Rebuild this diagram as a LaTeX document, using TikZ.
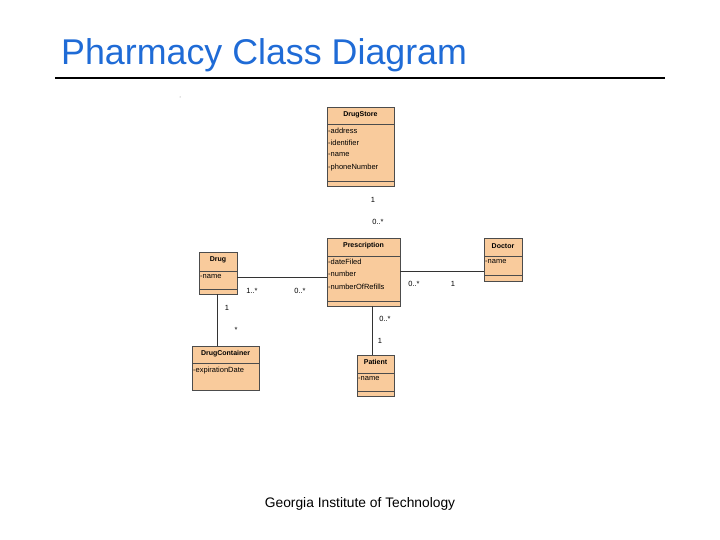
\documentclass[tikz,border=0pt]{standalone}
\usepackage{fontspec}
\setmainfont{Liberation Sans}
\begin{document}
\begin{tikzpicture}[x=1pt,y=-1pt,
  box/.style={draw=black!70,fill=boxc,line width=0.5pt},
  sep/.style={draw=black!70,line width=0.5pt},
  ttl/.style={font=\fontsize{7}{8}\selectfont\bfseries,anchor=center},
  att/.style={font=\fontsize{7.5}{8}\selectfont,anchor=west,inner sep=1pt},
  lab/.style={font=\fontsize{7.5}{8}\selectfont,inner sep=0pt},
  conn/.style={draw=black!80,line width=0.5pt}]
\definecolor{boxc}{HTML}{F9CB9C}
\definecolor{ttlc}{HTML}{1F6BD6}
\useasboundingbox (0,0) rectangle (720,540);
\node[anchor=west,text=ttlc,font=\fontsize{35.8}{38}\selectfont,inner sep=0pt] (title) at (61,55) {Pharmacy Class Diagram};
\draw[line width=2.5pt] (55,78) -- (665,78);
\fill[black!50] (180,97) circle (0.5);
% DrugStore
\path[box] (327,107) rectangle (394,186);
\draw[sep] (327,124) -- (394,124) (327,181) -- (394,181);
\node[ttl] (ds) at (360.5,115) {DrugStore};
\node[att] at (327,131) {-address};
\node[att] at (327,143) {-identifier};
\node[att] at (327,155) {-name};
\node[att] at (327,168) {-phoneNumber};
% Prescription
\path[box] (327,238) rectangle (400,306);
\draw[sep] (327,256) -- (400,256) (327,301) -- (400,301);
\node[ttl] (pr) at (363.5,246) {Prescription};
\node[att] at (327,262) {-dateFiled};
\node[att] at (327,274) {-number};
\node[att] at (327,287) {-numberOfRefills};
\coordinate (prL) at (327,277); \coordinate (prR) at (400,271); \coordinate (prB) at (372,306);
% Doctor
\path[box] (484,238) rectangle (522,281);
\draw[sep] (484,256) -- (522,256) (484,275) -- (522,275);
\node[ttl] (doc) at (503,246) {Doctor};
\node[att] at (484,262) {-name};
\coordinate (docL) at (484,271);
% Drug
\path[box] (199,252) rectangle (237,294);
\draw[sep] (199,271) -- (237,271) (199,289) -- (237,289);
\node[ttl] (drug) at (218,260) {Drug};
\node[att] at (199,277) {-name};
\coordinate (drugR) at (237,277); \coordinate (drugB) at (217,294);
% DrugContainer
\path[box] (192,346) rectangle (259,390);
\draw[sep] (192,363) -- (259,363);
\node[ttl] (dc) at (225.5,354) {DrugContainer};
\node[att] at (192,371) {-expirationDate};
\coordinate (dcT) at (217,346);
% Patient
\path[box] (357,355) rectangle (394,396);
\draw[sep] (357,373) -- (394,373) (357,391) -- (394,391);
\node[ttl] (pat) at (375.5,362) {Patient};
\node[att] at (357,379) {-name};
\coordinate (patT) at (372,355);
% connectors
\draw[conn] (drugR) -- (prL);
\draw[conn] (prR) -- (docL);
\draw[conn] (drugB) -- (dcT);
\draw[conn] (prB) -- (patT);
% multiplicities
\node[lab] at (373,200) {1};
\node[lab] at (378,222) {0..*};
\node[lab] at (252,291) {1..*};
\node[lab] at (300,291) {0..*};
\node[lab] at (414,284) {0..*};
\node[lab] at (453,284) {1};
\node[lab] at (227,308) {1};
\node[lab] at (236,330) {*};
\node[lab] at (385,319) {0..*};
\node[lab] at (380,341) {1};
\node[font=\fontsize{13.8}{15}\selectfont] (foot) at (360,504) {Georgia Institute of Technology};
\end{tikzpicture}
\end{document}
